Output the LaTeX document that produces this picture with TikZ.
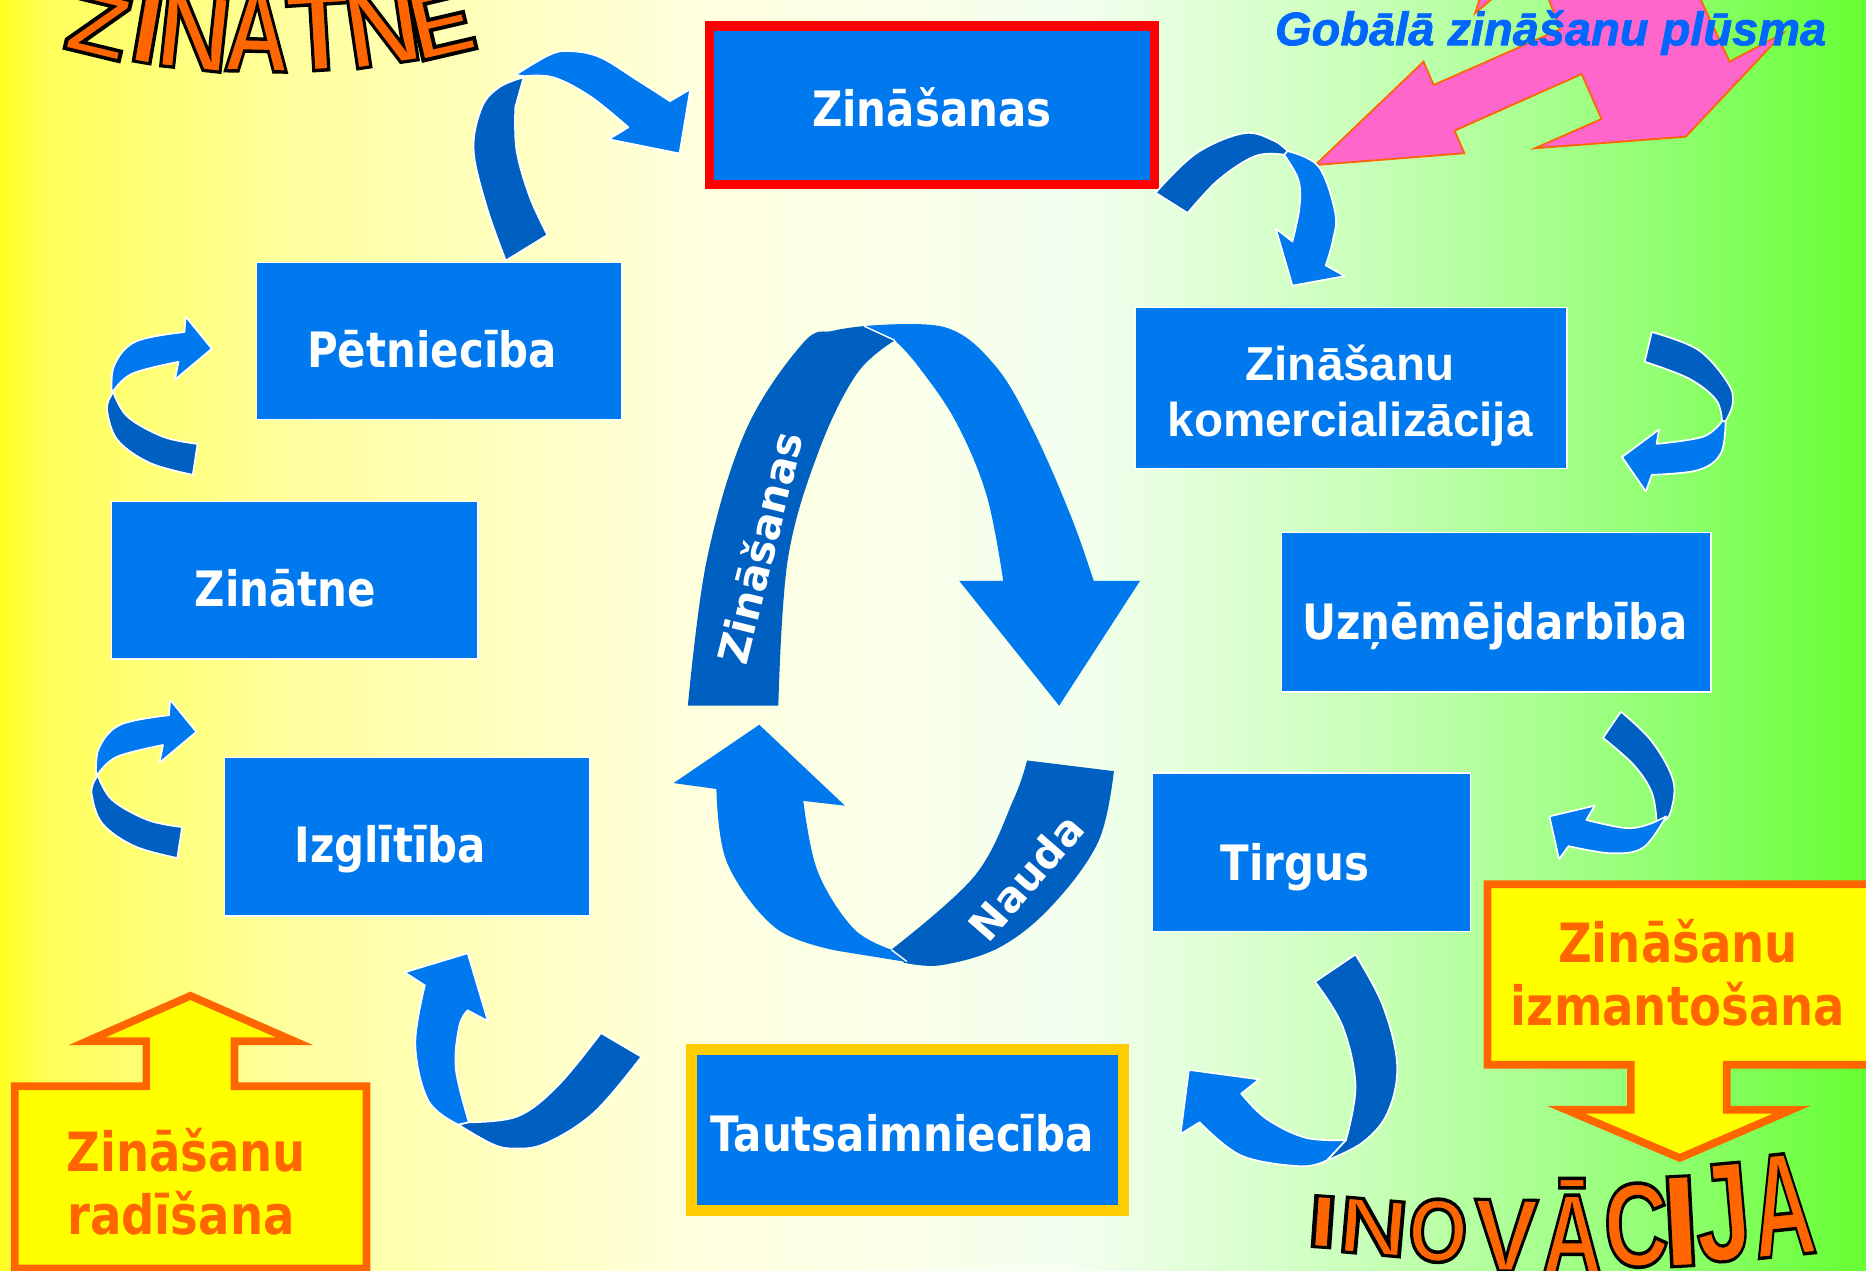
\documentclass[tikz,border=0pt]{standalone}
\usepackage{fontspec}
\usepackage{graphicx}
\setmainfont{DejaVu Sans}
\newfontfamily\tah{DejaVu Sans}[FakeStretch=0.86]
\newfontfamily\ari{Liberation Sans}
\newfontfamily\tit{Liberation Sans Bold Italic}[FakeBold=1.5]
\newfontfamily\wfa{Liberation Sans Bold}[FakeBold=4]
\newfontfamily\wfb{Liberation Sans Bold}[FakeBold=3]
\newfontfamily\wfc{Liberation Sans Bold}[FakeBold=2.3]
\definecolor{boxblue}{HTML}{0078EE}
\definecolor{arrblue}{HTML}{0079EE}
\definecolor{darkblue}{HTML}{0060C2}
\definecolor{pinkA}{HTML}{FF66CC}
\definecolor{orangeA}{HTML}{FF6600}
\definecolor{yellowA}{HTML}{FFFF00}
\definecolor{goldA}{HTML}{FFCC00}
\definecolor{redA}{HTML}{FF0000}
\definecolor{titleblue}{HTML}{0066FF}
\definecolor{bga}{HTML}{FFFF22}
\definecolor{bgb}{HTML}{FFFF5A}
\definecolor{bgc}{HTML}{FFFFA0}
\definecolor{bgd}{HTML}{FFFFE0}
\definecolor{bge}{HTML}{F4FFF0}
\definecolor{bgf}{HTML}{C8FFB8}
\definecolor{bgg}{HTML}{90FF70}
\definecolor{bgh}{HTML}{66FF33}
\newcommand{\wart}[1]{\special{pdf:bcolor [1 0.4 0] [0 0 0]}#1\special{pdf:ecolor}}
\newcommand{\wl}[4]{{#1\fontsize{#2}{#2}\selectfont\scalebox{#3}[1]{\wart{#4}}}}
\newcommand{\leftloop}{%
 \draw[dark] plot[smooth,tension=0.6] coordinates {(153,695) (124,689) (94,672) (82,651)} -- plot[smooth,tension=0.6] coordinates {(80,655) (77,667) (86,692) (113,711) (149,721)} -- cycle;
 \draw[light] plot[smooth,tension=0.6] coordinates {(81,652) (83,629) (101,609) (142,601)} -- (143,588) -- (165,615) -- (134,641) -- plot[smooth,tension=0.6] coordinates {(137,626) (98,636) (82,651)} -- cycle;
}
\begin{document}
\begin{tikzpicture}[x=1pt,y=-1pt,
  box/.style={fill=boxblue, draw=white, line width=1.2pt, inner sep=0pt, anchor=north west},
  btext/.style={text=white, font=\tah\bfseries\fontsize{41}{46}\selectfont, anchor=base, inner sep=0pt},
  ktext/.style={text=white, font=\ari\bfseries\fontsize{40}{44}\selectfont, anchor=base, inner sep=0pt},
  ctext/.style={text=orangeA, font=\tah\bfseries\fontsize{45.5}{50}\selectfont, anchor=base, inner sep=0pt},
  rtext/.style={text=white, font=\bfseries\fontsize{35}{40}\selectfont, inner sep=0pt},
  light/.style={fill=arrblue, draw=white, line width=1.4pt, line join=round},
  dark/.style={fill=darkblue, draw=white, line width=1.4pt, line join=round},
  callout/.style={fill=yellowA, draw=orangeA, line width=6.5pt, line join=miter},
  pinkarrow/.style={fill=pinkA, draw=orangeA, line width=1.5pt, line join=miter},
  wletter/.style={text=orangeA, anchor=base, inner sep=0pt}]
\useasboundingbox (0,0) rectangle (1568,1068);
\clip (0,0) rectangle (1568,1068);
% background
\shade[left color=bga, right color=bgb] (0,0) rectangle (41,1068);
\shade[left color=bgb, right color=bgc] (40,0) rectangle (251,1068);
\shade[left color=bgc, right color=bgd] (250,0) rectangle (601,1068);
\shade[left color=bgd, right color=bge] (600,0) rectangle (901,1068);
\shade[left color=bge, right color=bgf] (900,0) rectangle (1151,1068);
\shade[left color=bgf, right color=bgg] (1150,0) rectangle (1401,1068);
\shade[left color=bgg, right color=bgh] (1400,0) rectangle (1568,1068);
% pink global flow arrows
\draw[pinkarrow] (1105.2,138.7) -- (1196.2,51.8) -- (1204.7,71.4) -- (1310.9,24.6) -- (1299.8,-5) -- (1426.9,-5) -- (1453.4,51.8) -- (1498.2,28) -- (1416.5,114.9) -- (1289.7,124.6) -- (1345.7,100) -- (1329.1,62.2) -- (1222.3,109.8) -- (1230.5,128.8) -- cycle;
\draw[pinkarrow] (1239.5,11.2) -- (1244,-3) -- (1256,-3) -- cycle;
\node[text=titleblue, font=\tit\fontsize{39.5}{44}\selectfont, anchor=base, inner sep=0pt] (title) at (1303,38) {Gobālā zināšanu plūsma};
% ZINATNE word art
\node[wletter, rotate=-13.6] (z1) at (77,46) {\wl{\wfa}{75.6}{1.12}{Z}};
\node[wletter, rotate=-9.8] (z2) at (119,52.5) {\wl{\wfb}{84}{1.15}{I}};
\node[wletter, rotate=-6.2] (z3) at (160,58) {\wl{\wfb}{90}{0.95}{N}};
\node[wletter, rotate=-1.3] (z4) at (215,60) {\wl{\wfb}{96}{0.8}{Ā}};
\node[wletter, rotate=3.5] (z5) at (270,59) {\wl{\wfb}{96}{0.92}{T}};
\node[wletter, rotate=8.5] (z6) at (326,54) {\wl{\wfb}{90}{0.97}{N}};
\node[wletter, rotate=13.1] (z7) at (377,46) {\wl{\wfa}{80}{1.02}{E}};
% boxes
\node[fill=boxblue, draw=redA, line width=8pt, minimum width=374pt, minimum height=133pt, anchor=north west, inner sep=0pt] (bzin) at (592,18) {};
\node[fill=boxblue, draw=goldA, line width=9pt, minimum width=363pt, minimum height=135pt, anchor=north west, inner sep=0pt] (btaut) at (576.5,877.5) {};
\node[box, minimum width=363pt, minimum height=135pt] (bkom) at (953,258) {};
\node[box, minimum width=361pt, minimum height=134pt] (buzn) at (1076,447) {};
\node[box, minimum width=267pt, minimum height=133pt] (btir) at (968,649) {};
\node[box, minimum width=307pt, minimum height=133pt] (bizg) at (188,636) {};
\node[box, minimum width=308pt, minimum height=132pt] (bzna) at (93,421) {};
\node[box, minimum width=307pt, minimum height=132pt] (bpet) at (215,220) {};
\node[btext] (tzin) at (783,106) {Zināšanas};
\node[btext] (tpet) at (363,309) {Pētniecība};
\node[btext] (tzna) at (240,510) {Zinātne};
\node[btext] (tizg) at (328,725) {Izglītība};
\node[btext] (ttaut) at (758,968) {Tautsaimniecība};
\node[btext] (ttir) at (1088,740) {Tirgus};
\node[btext] (tuzn) at (1256,537) {Uzņēmējdarbība};
\node[ktext] (tkom1) at (1134.5,320) {Zināšanu};
\node[ktext] (tkom2) at (1134.5,367) {komercializācija};
% A1 Petnieciba -> Zinasanas
\draw[dark] plot[smooth,tension=0.6] coordinates {(425,219) (409,174) (398,126) (405,90) (420,73) (440,65)} -- plot[smooth,tension=0.6] coordinates {(433,90) (434,126) (445,165) (460,197.5)} -- cycle;
\draw[light] plot[smooth,tension=0.6] coordinates {(433,63) (462,46) (479,43) (504,48) (535,67) (563,85)} -- (580,75) -- (571,129) -- (511.5,117) -- plot[smooth,tension=0.6] coordinates {(528,107) (496,81) (465,65) (441,64)} -- cycle;
% A2 Zinasanas -> komercializacija
\draw[dark] plot[smooth,tension=0.6] coordinates {(971,162) (1005,129) (1045,112) (1070,118) (1082,127)} -- plot[smooth,tension=0.6] coordinates {(1079,130) (1055,131) (1024,151) (998,179)} -- cycle;
\draw[light] plot[smooth,tension=0.6] coordinates {(1082,127) (1108,140) (1122,179) (1120,202) (1114,223)} -- (1130,232) -- (1086,240) -- (1072,192) -- plot[smooth,tension=0.6] coordinates {(1086,203) (1092,174) (1091,151) (1079,130)} -- cycle;
% A3
\draw[dark] plot[smooth,tension=0.6] coordinates {(1388,279) (1427,294) (1452,322) (1456,339) (1450,354)} -- plot[smooth,tension=0.6] coordinates {(1447,354) (1442,336) (1419,318) (1382,304)} -- cycle;
\draw[light] plot[smooth,tension=0.6] coordinates {(1450,354) (1446,381) (1427,395) (1388,399)} -- (1383,413) -- (1363,384) -- (1394,361) -- plot[smooth,tension=0.6] coordinates {(1392,373) (1431,367) (1447,354)} -- cycle;
% A4
\draw[dark] plot[smooth,tension=0.6] coordinates {(1362,598) (1388,623) (1406,656) (1404,682) (1398,690)} -- plot[smooth,tension=0.6] coordinates {(1392,690) (1388,666) (1373,643) (1347,620)} -- cycle;
\draw[light] plot[smooth,tension=0.6] coordinates {(1400,686) (1381,712) (1354,717) (1318,711)} -- (1310,722) -- (1302,686) -- (1340,677) -- plot[smooth,tension=0.6] coordinates {(1333,689) (1369,696) (1392,690)} -- cycle;
% A5
\draw[dark] plot[smooth,tension=0.6] coordinates {(1139,802) (1162,845) (1174,895) (1166,935) (1145,960) (1115,975)} -- plot[smooth,tension=0.6] coordinates {(1131,958) (1139,912) (1128,862) (1105,825)} -- cycle;
\draw[light] plot[smooth,tension=0.6] coordinates {(1115,975) (1093,980) (1043,971) (1008,943)} -- (992,953) -- (999,899) -- (1058,907) -- plot[smooth,tension=0.6] coordinates {(1043,919) (1064,940) (1097,956) (1131,958)} -- cycle;
% A6
\draw[dark] plot[smooth,tension=0.6] coordinates {(505,868) (469,912) (435,938) (394,943)} -- plot[smooth,tension=0.6] coordinates {(385,945) (413,961) (431,965) (458,961) (499,935) (539,888)} -- cycle;
\draw[light] plot[smooth,tension=0.6] coordinates {(385,945) (360,925) (349,878) (357,828)} -- (340,817) -- (393,801) -- (410,858) -- plot[smooth,tension=0.6] coordinates {(393,849) (386,862) (383,898) (394,943)} -- cycle;
% A7, A8
\leftloop
\begin{scope}[shift={(13,-322)}]
\leftloop
\end{scope}
% central loop
\fill[darkblue] (752,286) -- plot[smooth,tension=0.6] coordinates {(726,274) (700,278) (675,288) (627,361) (594,470) (578,593)} -- plot[smooth,tension=0.6] coordinates {(654,593) (662,470) (688,379) (720,314) (752,286)} -- cycle;
\fill[arrblue] plot[smooth,tension=0.6] coordinates {(726,274) (794,275) (836,307) (868,361) (900,434) (919,488)} -- (958,488) -- (890,593) -- (806,488) -- plot[smooth,tension=0.6] coordinates {(843,488) (829,416) (803,354) (771,307) (752,286)} -- cycle;
\draw[white, line width=1.2pt] (726,274) -- (752,286);
\fill[arrblue] (638,609) -- (710,677) -- plot[smooth,tension=0.6] coordinates {(675,673) (687,732) (717,780) (749,798)} -- (772,810) -- plot[smooth,tension=0.6] coordinates {(704,799) (652,780) (611,725) (602,663)} -- (566,658) -- cycle;
\fill[darkblue] plot[smooth,tension=0.6] coordinates {(749,798) (819,736) (852,671) (863,639)} -- (936,648) -- plot[smooth,tension=0.6] coordinates {(936,648) (923,707) (884,761) (840,796) (791,811) (760,809)} -- cycle;
\draw[white, line width=1.2pt] (749,798) -- (762,808);
\node[rtext, rotate=76] (rz) at (638,460) {Zināšanas};
\node[rtext, rotate=49] (rn) at (862,737) {Nauda};
% callouts
\draw[callout] (12.4,1066) -- (12.4,912.7) -- (123,912.7) -- (123,875) -- (73,875) -- (160,836.8) -- (247.6,875) -- (197,875) -- (197,912.7) -- (308,912.7) -- (308,1066) -- cycle;
\node[ctext] (crad1) at (156.5,984) {Zināšanu};
\node[ctext] (crad2) at (152,1037) {radīšana};
\draw[callout] (1250,743) -- (1578,743) -- (1578,894.6) -- (1451,894.6) -- (1451,932.5) -- (1505.5,932.5) -- (1411.5,973) -- (1316,932.5) -- (1370.4,932.5) -- (1370.4,894.6) -- (1250,894.6) -- cycle;
\node[ctext] (cizm1) at (1410,809) {Zināšanu};
\node[ctext] (cizm2) at (1410,862) {izmantošana};
% INOVACIJA word art
\node[wletter, rotate=-4] (i1) at (1110,1048) {\wl{\wfa}{62.5}{1.5}{I}};
\node[wletter, rotate=-5] (i2) at (1152,1054) {\wl{\wfa}{67}{1.2}{N}};
\node[wletter, rotate=-3] (i3) at (1207,1060) {\wl{\wfa}{75}{0.85}{O}};
\node[wletter, rotate=-1] (i4) at (1265,1068) {\wl{\wfb}{87}{0.93}{V}};
\node[wletter, rotate=0] (i5) at (1321,1071) {\wl{\wfb}{97}{0.73}{Ā}};
\node[wletter, rotate=2] (i6) at (1376,1064) {\wl{\wfb}{100}{0.75}{C}};
\node[wletter, rotate=3] (i7) at (1414,1064) {\wl{\wfc}{110}{1.15}{I}};
\node[wletter, rotate=5] (i8) at (1451,1059) {\wl{\wfc}{118}{0.72}{J}};
\node[wletter, rotate=6] (i9) at (1502,1055) {\wl{\wfc}{124}{0.58}{A}};
\end{tikzpicture}
\end{document}
